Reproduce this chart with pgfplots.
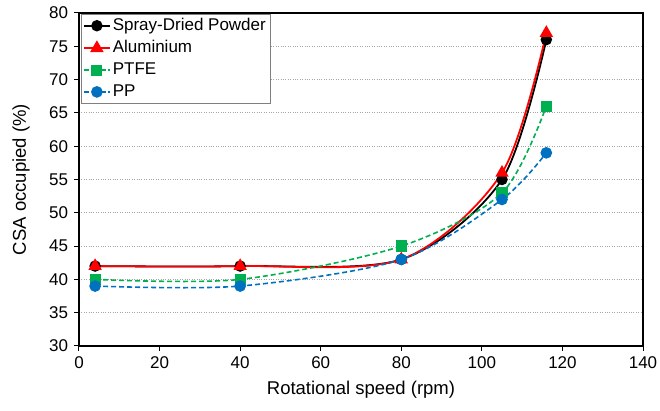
\documentclass[border=0pt]{standalone}
\usepackage{fontspec}
\setmainfont{Liberation Sans}
\usepackage{pgfplots}
\pgfplotsset{compat=1.18}
\definecolor{xlgreen}{RGB}{0,176,80}
\definecolor{xlblue}{RGB}{0,112,192}
\begin{document}
\fontsize{17}{20}\selectfont
\begin{tikzpicture}
\begin{axis}[
  scale only axis,
  width=564pt, height=333pt,
  xmin=0, xmax=140, ymin=30, ymax=80,
  xtick={0,20,...,140}, ytick={30,35,...,80},
  tick align=outside, tick pos=left,
  major tick length=5pt,
  axis line style={line width=1.4pt},
  every tick/.style={black, line width=1pt},
  ymajorgrids, grid style={gray!70, dotted, line width=0.8pt},
  /pgf/number format/assume math mode=true,
  tick label style={font=\fontsize{17}{20}\selectfont},
  label style={font=\fontsize{18.5}{22}\selectfont},
  xlabel={Rotational speed (rpm)},
  ylabel={CSA occupied (\%)},
  xlabel style={yshift=-1pt},
  ylabel style={yshift=8pt},
  legend style={at={(0.003,0.997)}, anchor=north west, draw=gray, line width=0.6pt,
    font=\fontsize{17}{20}\selectfont, row sep=3.5pt, inner sep=2pt,
    cells={anchor=west}},
  legend image code/.code={
    \draw[mark repeat=2,mark phase=2] plot coordinates {(0pt,0pt) (13pt,0pt) (26pt,0pt)};
  },
]
\addplot[black, line width=1.8pt, smooth, mark=*, mark size=4.8pt, mark options={solid}]
  coordinates {(4,42) (40,42) (80,43) (105,55) (116,76)};
\addlegendentry{Spray-Dried Powder}
\addplot[red, line width=1.8pt, smooth, mark=triangle*, mark size=6pt, mark options={solid}]
  coordinates {(4,42) (40,42) (80,43) (105,56) (116,77)};
\addlegendentry{Aluminium}
\addplot[xlgreen, line width=1.6pt, dash pattern=on 5pt off 3pt, smooth, mark=square*, mark size=4.8pt, mark options={solid}]
  coordinates {(4,40) (40,40) (80,45) (105,53) (116,66)};
\addlegendentry{PTFE}
\addplot[xlblue, line width=1.6pt, dash pattern=on 5pt off 3pt, smooth, mark=*, mark size=5pt, mark options={solid}]
  coordinates {(4,39) (40,39) (80,43) (105,52) (116,59)};
\addlegendentry{PP}
\end{axis}
\pgfresetboundingbox
\path[use as bounding box] (-79pt,-65pt) rectangle (581pt,346pt);
\end{tikzpicture}
\end{document}
